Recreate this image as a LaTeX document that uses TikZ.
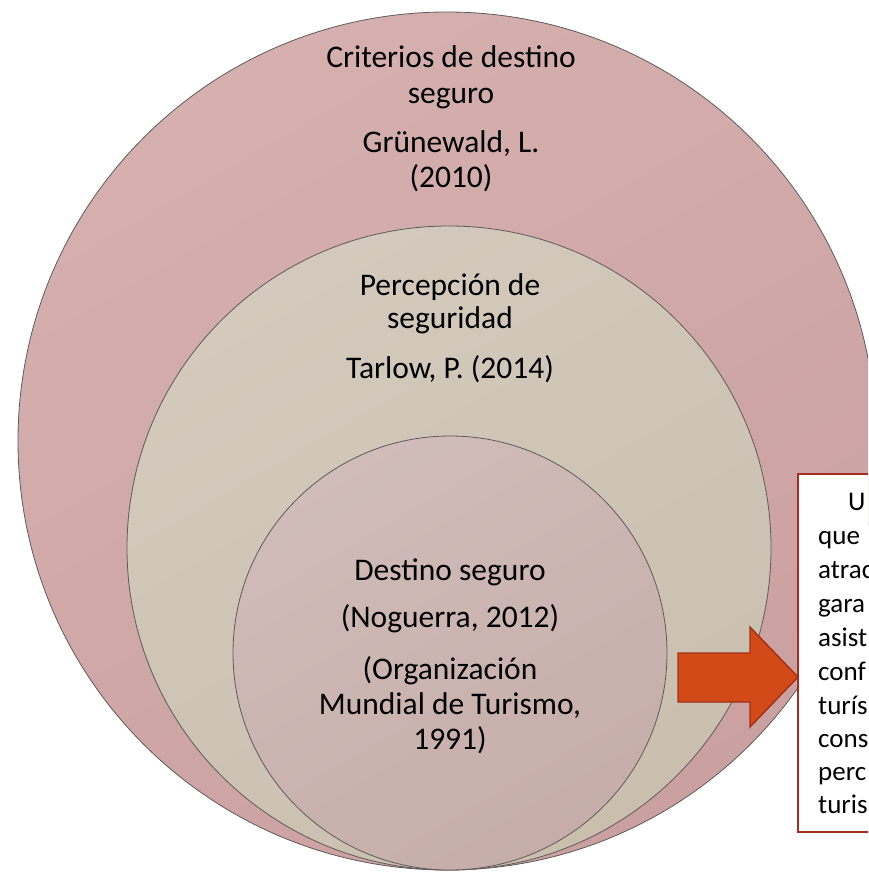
\documentclass[tikz,border=0pt]{standalone}
\usepackage{fontspec}
\setmainfont{Carlito}
\definecolor{outerL}{RGB}{213,176,175}
\definecolor{outerR}{RGB}{203,160,160}
\definecolor{midL}{RGB}{211,202,189}
\definecolor{midR}{RGB}{202,191,175}
\definecolor{innL}{RGB}{208,188,185}
\definecolor{innR}{RGB}{198,173,169}
\definecolor{rimgray}{RGB}{95,90,90}
\definecolor{arrowfill}{RGB}{210,74,23}
\definecolor{arrowrim}{RGB}{160,48,22}
\definecolor{boxrim}{RGB}{165,45,35}
\tikzset{
  ring/.style={draw=rimgray, line width=0.8pt},
  bigtxt/.style={font=\fontsize{31.5}{34}\selectfont, anchor=base, inner sep=0pt, text=black},
  boxtxt/.style={font=\fontsize{27}{33}\selectfont, anchor=base west, inner sep=0pt, text=black}
}
\begin{document}
\begin{tikzpicture}[x=1pt,y=-1pt]
\clip (0,0) rectangle (868,872);
\fill[white] (0,0) rectangle (868,872);
% circles
\shade[ring, top color=outerL, bottom color=outerR, shading angle=30] (447,441) circle[radius=429];
\shade[ring, top color=midL, bottom color=midR, shading angle=30] (449,548) circle[radius=322];
\shade[ring, top color=innL, bottom color=innR, shading angle=30] (450,653) circle[radius=217];
% outer texts
\node[bigtxt] (o1) at (451,68) {Criterios de destino};
\node[bigtxt] (o2) at (451,103) {seguro};
\node[bigtxt] (o3) at (451,153) {Grünewald, L.};
\node[bigtxt] (o4) at (451,187) {(2010)};
% middle texts
\node[bigtxt] (m1) at (450,295) {Percepción de};
\node[bigtxt] (m2) at (450,328) {seguridad};
\node[bigtxt] (m3) at (450,378) {Tarlow, P. (2014)};
% inner texts
\node[bigtxt] (i1) at (450,580) {Destino seguro};
\node[bigtxt] (i2) at (450,627) {(Noguerra, 2012)};
\node[bigtxt] (i3) at (450,679) {(Organización};
\node[bigtxt] (i4) at (450,714) {Mundial de Turismo,};
\node[bigtxt] (i5) at (450,749) {1991)};
% block arrow
\draw[fill=arrowfill, draw=arrowrim, line width=1.4pt, line join=miter]
  (678,653) -- (750,653) -- (750,627) -- (798,677) -- (750,727) -- (750,702) -- (678,702) -- cycle;
% text box
\draw[fill=white, draw=boxrim, line width=2.6pt] (798,474) rectangle (900,832);
\node[boxtxt] (b0) at (848,510) {U};
\node[boxtxt] (b1) at (818,544) {que};
\node[boxtxt] (b2) at (818,578) {atrac};
\node[boxtxt] (b3) at (818,612) {gara};
\node[boxtxt] (b4) at (818,646) {asist};
\node[boxtxt] (b5) at (818,680) {conf};
\node[boxtxt] (b6) at (818,714) {turís};
\node[boxtxt] (b7) at (818,747) {cons};
\node[boxtxt] (b8) at (818,780) {perc};
\node[boxtxt] (b9) at (818,813) {turis};
\end{tikzpicture}
\end{document}
